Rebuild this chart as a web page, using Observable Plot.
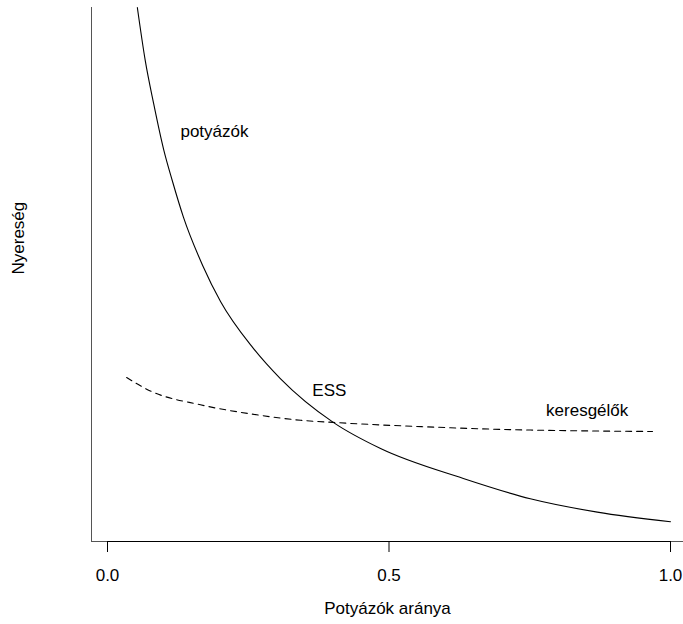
<!DOCTYPE html>
<html><head><meta charset="utf-8">
<script src="https://cdn.jsdelivr.net/npm/d3@7"></script>
<script src="https://cdn.jsdelivr.net/npm/@observablehq/plot@0.6"></script>
<style>body{margin:0;background:#fff}</style>
</head><body><div id="chart"></div>
<script>
// Potyázók (solid curve)
const potyazokX = [0.053, 0.067, 0.082, 0.100, 0.115, 0.135, 0.169, 0.201, 0.258, 0.307, 0.401, 0.485, 0.632, 0.751, 0.870, 1.0];
const potyazokY = [10.0, 9.01, 8.20, 7.33, 6.76, 6.07, 5.17, 4.49, 3.63, 3.05, 2.23, 1.74, 1.18, 0.80, 0.55, 0.37];
// Keresgélők (dashed curve)
const keresgelokX = [0.034, 0.076, 0.165, 0.254, 0.343, 0.401, 0.609, 0.663, 0.968];
const keresgelokY = [3.07, 2.82, 2.56, 2.39, 2.27, 2.23, 2.13, 2.11, 2.06];
// Axis ticks
const tickValues = [0, 0.5, 1];
const tickLabels = ["0.0", "0.5", "1.0"];
// In-plot annotations
const noteText = ["potyázók", "ESS", "keresgélők"];
const noteX = [0.19, 0.394, 0.852];
const noteY = [7.68, 2.83, 2.45];
const xTitle = "Potyázók aránya";
const yTitle = "Nyereség";

const solid = potyazokX.map((x, i) => ({x, y: potyazokY[i]}));
const dashed = keresgelokX.map((x, i) => ({x, y: keresgelokY[i]}));
const notes = noteText.map((t, i) => ({t, x: noteX[i], y: noteY[i]}));

const chart = Plot.plot({
  width: 683,
  height: 624,
  marginLeft: 91,
  marginRight: 0,
  marginTop: 7,
  marginBottom: 83,
  insetLeft: 16,
  insetRight: 13,
  x: {domain: [0, 1]},
  y: {domain: [0, 10], axis: null},
  style: {fontFamily: "'Liberation Sans', Arial, sans-serif", fontSize: "17px", background: "#fff", color: "#000"},
  marks: [
    Plot.ruleY([0], {stroke: "#555", strokeWidth: 1}),
    Plot.frame({anchor: "left", stroke: "#555", strokeWidth: 1}),
    Plot.ruleY([{y: 0, x1: tickValues[0], x2: tickValues[tickValues.length - 1]}], {y: "y", x1: "x1", x2: "x2", stroke: "#000"}),
    Plot.axisX({ticks: tickValues, tickFormat: (d, i) => tickLabels[i], tickSize: 11, tickPadding: 16, fontSize: 17, label: null, stroke: "#000"}),
    Plot.line(solid, {x: "x", y: "y", stroke: "#000", strokeWidth: 1.1, curve: "monotone-x"}),
    Plot.line(dashed, {x: "x", y: "y", stroke: "#000", strokeWidth: 1.1, strokeDasharray: "6,5", curve: "monotone-x"}),
    Plot.text(notes, {x: "x", y: "y", text: "t", fontSize: 17, fill: "#000"}),
    Plot.text([xTitle], {frameAnchor: "bottom", dy: 67, fontSize: 17, fill: "#000", lineAnchor: "middle"}),
    Plot.text([yTitle], {frameAnchor: "left", dx: -73, rotate: -90, fontSize: 17, fill: "#000", lineAnchor: "middle"})
  ]
});
document.getElementById("chart").append(chart);
</script>
</body></html>
